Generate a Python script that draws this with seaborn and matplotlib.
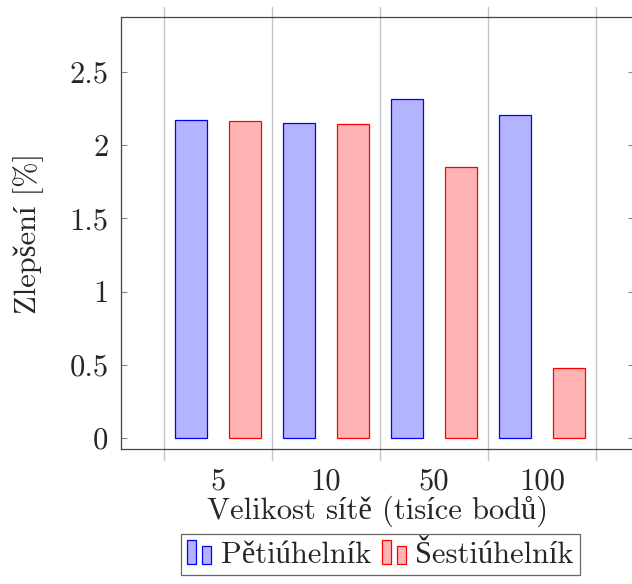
import seaborn as sns
import matplotlib.pyplot as plt
import matplotlib.transforms as mtransforms
from matplotlib.patches import Patch, Rectangle
from matplotlib.legend_handler import HandlerBase
import pandas as pd

# values
sizes = ["5", "10", "50", "100"]
petiuhelnik = [2.172, 2.152, 2.316, 2.206]
sestiuhelnik = [2.165, 2.145, 1.851, 0.478]
series_names = ["Pětiúhelník", "Šestiúhelník"]
y_ticks = [0, 0.5, 1, 1.5, 2, 2.5]
y_ticklabels = ["0", "0.5", "1", "1.5", "2", "2.5"]

data = pd.DataFrame({
    "size": sizes * 2,
    "value": petiuhelnik + sestiuhelnik,
    "shape": [series_names[0]] * len(sizes) + [series_names[1]] * len(sizes),
})

sns.set_style("white")
plt.rcParams["font.family"] = ["cmr10", "Liberation Serif"]
plt.rcParams["axes.formatter.use_mathtext"] = True

FS = 22
face = {series_names[0]: "#b3b3ff", series_names[1]: "#ffb3b3"}
edge = {series_names[0]: "#0000ff", series_names[1]: "#ff0000"}

fig = plt.figure(figsize=(6.32, 5.84), dpi=100)
ax = fig.add_axes([0.1915, 0.2312, 0.8115, 0.7397])

sns.barplot(data=data, x="size", y="value", hue="shape", order=sizes,
            hue_order=series_names, palette=face, saturation=1, width=1.0,
            gap=0.41, legend=False, ax=ax)

# edge colours per series
for container, name in zip(ax.containers, series_names):
    for bar in container:
        bar.set_edgecolor(edge[name])
        bar.set_linewidth(0.9)

ax.set_xlim(-0.898, 3.852)
ax.set_ylim(-0.075, 2.876)
ax.set_yticks(y_ticks)
ax.set_yticklabels(y_ticklabels)
ax.tick_params(axis="y", direction="in", length=4, width=0.8, color="#888888",
               left=True, right=True, labelsize=FS, pad=9)
ax.tick_params(axis="x", length=0, labelsize=FS, pad=14)

for side in ["left", "top", "bottom"]:
    ax.spines[side].set_color("#444444")
    ax.spines[side].set_linewidth(0.9)
ax.spines["right"].set_visible(False)

# vertical separators between groups, poking a bit past the axes
trans = mtransforms.blended_transform_factory(ax.transData, ax.transAxes)
for i in range(len(sizes) + 1):
    ax.plot([i - 0.5, i - 0.5], [-0.026, 1.023], transform=trans, color="#c4c4c4",
            lw=1.0, clip_on=False, zorder=0)

ax.set_xlabel("Velikost sítě (tisíce bodů)", fontsize=FS, labelpad=0)
ax.set_ylabel("Zlepšení [%]", fontsize=FS, labelpad=18)


class TwoBars(HandlerBase):
    def create_artists(self, legend, orig_handle, xdescent, ydescent,
                       width, height, fontsize, trans):
        w = width * 0.38
        kw = dict(facecolor=orig_handle.get_facecolor(),
                  edgecolor=orig_handle.get_edgecolor(), lw=0.9, transform=trans)
        r1 = Rectangle((-xdescent, -ydescent), w, height, **kw)
        r2 = Rectangle((-xdescent + width - w, -ydescent), w, height * 0.75, **kw)
        return [r1, r2]


handles = [Patch(facecolor=face[n], edgecolor=edge[n]) for n in series_names]
leg = fig.legend(handles, series_names, handler_map={Patch: TwoBars()},
                 loc="upper center", bbox_to_anchor=(0.602, 0.086),
                 ncol=2, fontsize=FS, frameon=True, fancybox=False,
                 handlelength=0.8, handleheight=0.85, handletextpad=0.3,
                 columnspacing=0.35, borderpad=0.2, borderaxespad=0)
leg.get_frame().set_edgecolor("#444444")
leg.get_frame().set_linewidth(0.9)

fig.savefig("out.png", dpi=100)
